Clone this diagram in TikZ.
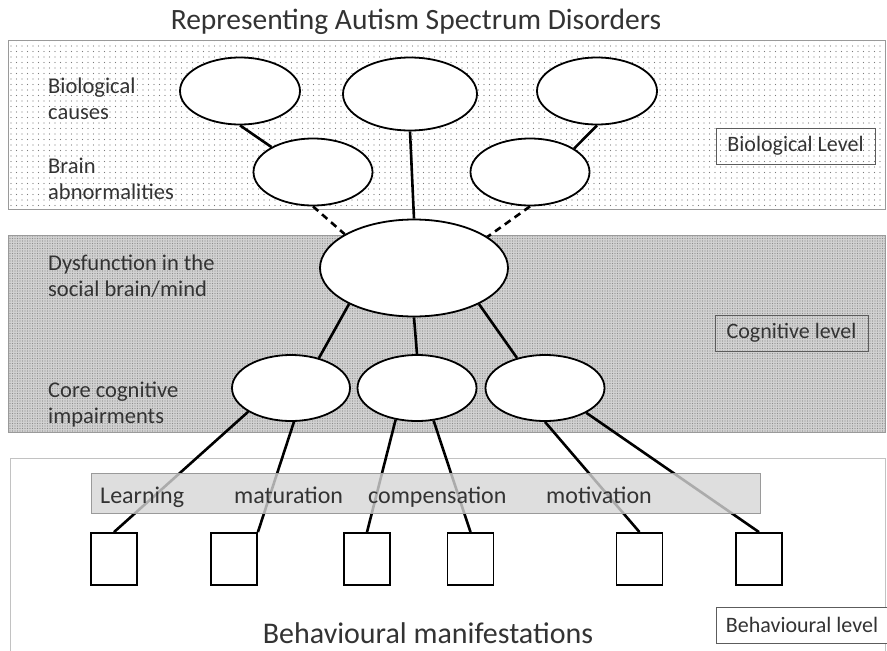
\documentclass[tikz,border=0pt]{standalone}
\usepackage{fontspec}
\setmainfont{Carlito}
\definecolor{Dotcol}{HTML}{7A7A7A}
\definecolor{Cogcol}{HTML}{D2D2D2}
\definecolor{Cogdot}{HTML}{8C8C8C}
\definecolor{Barcol}{HTML}{D6D6D6}
\definecolor{Edgecol}{HTML}{9A9A9A}
\definecolor{Textcol}{HTML}{333333}
\usetikzlibrary{shapes.geometric, patterns.meta, positioning}
\tikzset{
    oval/.style={ellipse, draw=black, line width=1.8pt, fill=white, inner sep=0pt},
    behbox/.style={rectangle, draw=black, line width=1.8pt, fill=white,
        minimum width=46pt, minimum height=52pt, inner sep=0pt},
    link/.style={black, line width=2.6pt},
    dashlink/.style={link, dash pattern=on 7pt off 5pt},
    levelbox/.style={draw=Textcol!80, thin, minimum height=36pt, inner sep=0pt,
        font=\fontsize{22}{26}\selectfont, text=Textcol},
    sidelabel/.style={anchor=north west, align=left, inner sep=0pt,
        font=\fontsize{22.5}{26}\selectfont, text=Textcol},
    barlabel/.style={anchor=base west, inner sep=0pt, font=\fontsize{24}{28}\selectfont, text=Textcol}
}

\begin{document}
\begin{tikzpicture}[x=1pt, y=-1pt]
    \useasboundingbox (0,0) rectangle (887,651);

    % Bands
    \path[pattern={Dots[distance=5.5pt, radius=0.7pt]}, pattern color=Dotcol] (8,40) rectangle (885,209);
    \draw[Edgecol, thin] (8,40) rectangle (885,209);
    \fill[Cogcol] (8,235) rectangle (885,432);
    \path[pattern={Dots[distance=2.5pt, radius=0.55pt]}, pattern color=Cogdot] (8,235) rectangle (885,432);
    \draw[Edgecol, thin] (8,235) rectangle (885,432);
    \draw[Edgecol!60, thin] (10,458) rectangle (885,656);

    % Title
    \node[font=\fontsize{29.5}{34}\selectfont, text=Textcol] (title) at (416,22) {Representing Autism Spectrum Disorders};

    % Side labels
    \node[sidelabel] (causeslab) at (48,78) {Biological\\causes};
    \node[sidelabel] (brainlab) at (48,158) {Brain\\abnormalities};
    \node[sidelabel] (dysflab) at (48,255) {Dysfunction in the\\social brain/mind};
    \node[sidelabel] (corelab) at (48,382) {Core cognitive\\impairments};

    % Level boxes
    \node[levelbox, minimum width=159pt] (biolevel) at (795.5,146) {Biological Level};
    \node[levelbox, minimum width=153pt] (coglevel) at (791.5,333) {Cognitive level};
    \node[levelbox, minimum width=172pt, fill=white] (behlevel) at (802,625) {Behavioural level};

    % Ellipses
    \node[oval, minimum width=120pt, minimum height=67pt] (e1) at (240,91) {};
    \node[oval, minimum width=134pt, minimum height=73pt] (e2) at (410,94) {};
    \node[oval, minimum width=120pt, minimum height=67pt] (e3) at (597,91) {};
    \node[oval, minimum width=119pt, minimum height=67pt] (b1) at (313,172) {};
    \node[oval, minimum width=119pt, minimum height=67pt] (b2) at (530,172) {};
    \node[oval, minimum width=188pt, minimum height=97pt] (d) at (414,268) {};
    \node[oval, minimum width=118pt, minimum height=66pt] (c1) at (291,388) {};
    \node[oval, minimum width=119pt, minimum height=66pt] (c2) at (417,388) {};
    \node[oval, minimum width=119pt, minimum height=66pt] (c3) at (545,388) {};

    % Behaviour boxes
    \node[behbox] (s1) at (114,559) {};
    \node[behbox] (s2) at (234,559) {};
    \node[behbox] (s3) at (367,559) {};
    \node[behbox] (s4) at (470.5,559) {};
    \node[behbox] (s5) at (639.5,559) {};
    \node[behbox] (s6) at (759,559) {};

    % Links
    \draw[link] (e1.south) -- (b1.149);
    \draw[link] (e2.south) -- (d.north);
    \draw[link] (e3.south) -- (b2.28);
    \draw[dashlink] (b1.south) -- (d.154);
    \draw[dashlink] (b2.south) -- (d.23);
    \draw[link] (d.209) -- (c1.47);
    \draw[link] (d.south) -- (c2.north);
    \draw[link] (d.-29) -- (c3.133);
    \draw[link] (c1.209) -- (s1.north);
    \draw[link] (c1.-85) -- (s2.north east);
    \draw[link] (c2.-124) -- (s3.north);
    \draw[link] (c2.-63) -- (s4.north);
    \draw[link] (c3.south) -- (s5.north);
    \draw[link] (c3.-31) -- (s6.north);

    % Modifier bar
    \node[rectangle, draw=Edgecol, fill=Barcol, fill opacity=0.8, minimum width=669pt,
        minimum height=40pt, inner sep=0pt] (modbar) at (425.5,493) {};
    \node[barlabel] (learn) at (100,503) {Learning};
    \node[barlabel] (matur) at (234,503) {maturation};
    \node[barlabel] (compen) at (368,503) {compensation};
    \node[barlabel] (motiv) at (546,503) {motivation};

    % Bottom label
    \node[font=\fontsize{30}{34}\selectfont, text=Textcol] (behlab) at (428,633) {Behavioural manifestations};
\end{tikzpicture}
\end{document}
